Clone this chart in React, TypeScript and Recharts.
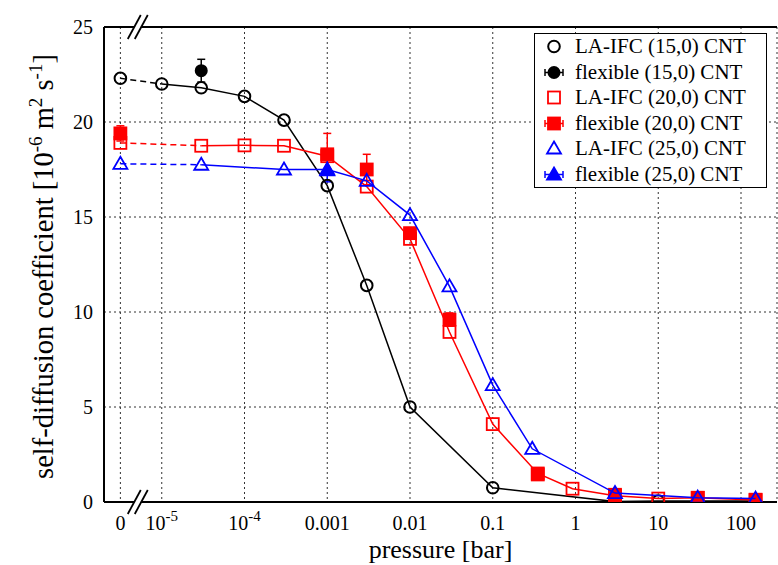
import React from 'react'
import {
  ScatterChart,
  Scatter,
  XAxis,
  YAxis,
  CartesianGrid,
  ErrorBar,
  Legend,
  ReferenceDot,
} from 'recharts'

const SERIF = '"Liberation Serif", "DejaVu Serif", serif'
const BLACK = '#000000'
const RED = '#ff0000'
const BLUE = '#0000ff'

// p = 0 is drawn left of the axis break, half a decade below 1e-5
const ZERO_AT = -5.5

// x axis works in log10(p)
const xTicks = [-5.5, -5, -4, -3, -2, -1, 0, 1, 2]
const xTickBase = ['0', '10', '10', '0.001', '0.01', '0.1', '1', '10', '100']
const xTickExp = ['', '-5', '-4', '', '', '', '', '', '']

const yMajor = [0, 5, 10, 15, 20, 25]
const yMinor = [
  0, 1, 2, 3, 4, 5, 6, 7, 8, 9, 10, 11, 12, 13, 14, 15, 16, 17, 18, 19, 20, 21,
  22, 23, 24, 25,
]

// LA-IFC (15,0)
const la15P = [0, 1e-5, 3e-5, 1e-4, 3e-4, 1e-3, 3e-3, 1e-2, 0.1, 3, 10, 30, 150]
const la15D = [22.3, 22.0, 21.8, 21.35, 20.1, 16.65, 11.4, 5.0, 0.75, 0.02, 0.05, 0.05, 0.05]

// flexible (15,0)
const fx15P = [3e-5]
const fx15D = [22.7]
const fx15E = [0.6]

// LA-IFC (20,0)
const la20P = [0, 3e-5, 1e-4, 3e-4, 1e-3, 3e-3, 1e-2, 3e-2, 0.1, 0.35, 0.92, 3, 10, 30, 150]
const la20D = [18.9, 18.75, 18.77, 18.75, 18.2, 16.6, 13.85, 8.95, 4.1, 1.5, 0.7, 0.33, 0.18, 0.22, 0.1]

// flexible (20,0)
const fx20P = [0, 1e-3, 3e-3, 1e-2, 3e-2, 0.35, 3, 30, 150]
const fx20D = [19.4, 18.3, 17.5, 14.15, 9.6, 1.45, 0.38, 0.22, 0.12]
const fx20E = [0.4, 1.1, 0.8, 0.25, 0.35, 0.1, 0.05, 0.05, 0.05]

// LA-IFC (25,0)
const la25P = [0, 3e-5, 3e-4, 1e-3, 3e-3, 1e-2, 3e-2, 0.1, 0.3, 3, 30, 150]
const la25D = [17.8, 17.75, 17.5, 17.5, 16.9, 15.1, 11.35, 6.15, 2.8, 0.47, 0.23, 0.18]

// flexible (25,0)
const fx25P = [1e-3]
const fx25D = [17.45]
const fx25E = [0.6]

const legendNames = [
  'LA-IFC (15,0) CNT',
  'flexible (15,0) CNT',
  'LA-IFC (20,0) CNT',
  'flexible (20,0) CNT',
  'LA-IFC (25,0) CNT',
  'flexible (25,0) CNT',
]

type Row = { x: number; y: number; err: number }

const toRows = (p: number[], d: number[], e?: number[]): Row[] =>
  p.map((v, i) => ({
    x: v === 0 ? ZERO_AT : Math.log10(v),
    y: d[i],
    err: e ? e[i] : 0,
  }))

const la15 = toRows(la15P, la15D)
const fx15 = toRows(fx15P, fx15D, fx15E)
const la20 = toRows(la20P, la20D)
const fx20 = toRows(fx20P, fx20D, fx20E)
const la25 = toRows(la25P, la25D)
const fx25 = toRows(fx25P, fx25D, fx25E)

type Kind = 'circle' | 'square' | 'triangle'

const Marker = ({
  cx,
  cy,
  kind,
  color,
  filled,
}: {
  cx: number
  cy: number
  kind: Kind
  color: string
  filled: boolean
}) => {
  const fill = filled ? color : 'none'
  if (kind === 'circle')
    return (
      <circle cx={cx} cy={cy} r={filled ? 5.5 : 5.8} fill={fill} stroke={color} strokeWidth={2} />
    )
  if (kind === 'square')
    return (
      <rect x={cx - 6} y={cy - 6} width={12} height={12} fill={fill} stroke={color} strokeWidth={1.8} />
    )
  return (
    <polygon
      points={`${cx},${cy - 7} ${cx + 7},${cy + 5} ${cx - 7},${cy + 5}`}
      fill={fill}
      stroke={color}
      strokeWidth={1.8}
    />
  )
}

const shapeOf = (kind: Kind, color: string, filled: boolean) => (p: any) =>
  <Marker cx={p.cx} cy={p.cy} kind={kind} color={color} filled={filled} />

const noShape = () => <g />

const PressureTick = ({ x, y, payload }: any) => {
  const i = xTicks.indexOf(payload.value)
  return (
    <text x={x} y={y} textAnchor="middle" fontFamily={SERIF} fontSize={20} fill={BLACK}>
      {xTickBase[i]}
      {xTickExp[i] && (
        <tspan dy={-9} fontSize={15}>
          {xTickExp[i]}
        </tspan>
      )}
    </text>
  )
}

const XTitle = ({ viewBox }: any) => (
  <text
    x={viewBox.x + viewBox.width / 2}
    y={viewBox.y + 56}
    textAnchor="middle"
    fontFamily={SERIF}
    fontSize={26}
    fill={BLACK}
  >
    pressure [bar]
  </text>
)

const YTitle = ({ viewBox }: any) => {
  const cx = viewBox.x + 53
  const cy = viewBox.y + viewBox.height / 2 + 2
  return (
    <text
      transform={`translate(${cx},${cy}) rotate(-90)`}
      textAnchor="middle"
      fontFamily={SERIF}
      fontSize={28.5}
      fill={BLACK}
    >
      self-diffusion coefficient [10
      <tspan dy={-11} fontSize={19}>-6</tspan>
      <tspan dy={11}> m</tspan>
      <tspan dy={-11} fontSize={19}>2</tspan>
      <tspan dy={11}> s</tspan>
      <tspan dy={-11} fontSize={19}>-1</tspan>
      <tspan dy={11}>]</tspan>
    </text>
  )
}

// "//" marks where the axes are broken between 0 and 1e-5
const BreakMark = (p: any) => {
  const { cx, cy } = p
  return (
    <g>
      <polygon
        points={`${cx - 9},${cy + 12} ${cx + 3},${cy - 12} ${cx + 9},${cy - 12} ${cx - 3},${cy + 12}`}
        fill="#fff"
      />
      <line x1={cx - 10} y1={cy + 12} x2={cx + 3} y2={cy - 12} stroke={BLACK} strokeWidth={1.8} />
      <line x1={cx - 3} y1={cy + 12} x2={cx + 10} y2={cy - 12} stroke={BLACK} strokeWidth={1.8} />
    </g>
  )
}

const legendMarks: { kind: Kind; color: string; filled: boolean }[] = [
  { kind: 'circle', color: BLACK, filled: false },
  { kind: 'circle', color: BLACK, filled: true },
  { kind: 'square', color: RED, filled: false },
  { kind: 'square', color: RED, filled: true },
  { kind: 'triangle', color: BLUE, filled: false },
  { kind: 'triangle', color: BLUE, filled: true },
]

const LegendBox = () => (
  <div
    style={{
      boxSizing: 'border-box',
      width: 233,
      border: '1.5px solid #000',
      background: '#fff',
      fontFamily: SERIF,
      fontSize: 21,
      color: BLACK,
    }}
  >
    {legendNames.map((name, i) => {
      const m = legendMarks[i]
      return (
        <div key={name} style={{ display: 'flex', alignItems: 'center', height: 25.5 }}>
          <svg width={40} height={25} style={{ flex: 'none' }}>
            {m.filled && (
              <g stroke={m.color} strokeWidth={1.5}>
                <line x1={10} y1={12.5} x2={28} y2={12.5} />
                <line x1={10} y1={9} x2={10} y2={16} />
                <line x1={28} y1={9} x2={28} y2={16} />
              </g>
            )}
            <Marker
              cx={19}
              cy={12.5}
              kind={m.kind}
              color={m.color}
              filled={m.filled}
            />
          </svg>
          <span style={{ whiteSpace: 'nowrap' }}>{name}</span>
        </div>
      )
    })}
  </div>
)

const axisStroke = { stroke: BLACK, strokeWidth: 2 }
const tickStroke = { stroke: BLACK, strokeWidth: 1.5 }
const blank = () => ''

export default function App() {
  const xDomain: [number, number] = [-5.698, 2.435]
  const yDomain: [number, number] = [0, 25]
  return (
    <div>
      <style>{'body{margin:0}'}</style>
      <ScatterChart
        width={778}
        height={565}
        margin={{ top: 27, right: 1, left: 0, bottom: 0 }}
      >
        <CartesianGrid stroke="#333" strokeDasharray="2 3" strokeWidth={1} />
        <XAxis
          type="number"
          dataKey="x"
          domain={xDomain}
          allowDataOverflow
          ticks={xTicks}
          interval={0}
          height={63}
          axisLine={axisStroke}
          tickLine={false}
          tickSize={0}
          tickMargin={28}
          tick={<PressureTick />}
          label={<XTitle />}
        />
        <XAxis
          xAxisId="bottomTicks"
          type="number"
          domain={xDomain}
          allowDataOverflow
          ticks={xTicks}
          interval={0}
          mirror
          axisLine={false}
          tickLine={tickStroke}
          tickSize={7}
          tickFormatter={blank}
        />
        <XAxis
          xAxisId="top"
          orientation="top"
          type="number"
          domain={xDomain}
          allowDataOverflow
          ticks={xTicks}
          interval={0}
          mirror
          axisLine={axisStroke}
          tickLine={tickStroke}
          tickSize={7}
          tickFormatter={blank}
        />
        <YAxis
          type="number"
          dataKey="y"
          domain={yDomain}
          allowDataOverflow
          ticks={yMajor}
          interval={0}
          width={104}
          axisLine={axisStroke}
          tickLine={false}
          tickSize={0}
          tickMargin={11}
          tick={{ fill: BLACK, fontSize: 20, fontFamily: SERIF }}
          label={<YTitle />}
        />
        <YAxis
          yAxisId="leftMinor"
          type="number"
          domain={yDomain}
          ticks={yMinor}
          interval={0}
          mirror
          axisLine={false}
          tickLine={tickStroke}
          tickSize={4}
          tickFormatter={blank}
        />
        <YAxis
          yAxisId="leftMajor"
          type="number"
          domain={yDomain}
          ticks={yMajor}
          interval={0}
          mirror
          axisLine={false}
          tickLine={tickStroke}
          tickSize={8}
          tickFormatter={blank}
        />
        <YAxis
          yAxisId="rightMinor"
          orientation="right"
          type="number"
          domain={yDomain}
          ticks={yMinor}
          interval={0}
          mirror
          width={0}
          axisLine={axisStroke}
          tickLine={tickStroke}
          tickSize={4}
          tickFormatter={blank}
        />
        <YAxis
          yAxisId="rightMajor"
          orientation="right"
          type="number"
          domain={yDomain}
          ticks={yMajor}
          interval={0}
          mirror
          width={0}
          axisLine={false}
          tickLine={tickStroke}
          tickSize={8}
          tickFormatter={blank}
        />

        {/* (15,0) */}
        <Scatter data={la15.slice(0, 2)} shape={noShape} line={{ stroke: BLACK, strokeWidth: 1.5, strokeDasharray: '6 4' }} isAnimationActive={false} />
        <Scatter data={la15.slice(1)} shape={noShape} line={{ stroke: BLACK, strokeWidth: 1.5 }} isAnimationActive={false} />
        <Scatter data={la15} shape={shapeOf('circle', BLACK, false)} isAnimationActive={false} />
        <Scatter data={fx15} shape={shapeOf('circle', BLACK, true)} isAnimationActive={false}>
          <ErrorBar dataKey="err" direction="y" width={4} stroke={BLACK} strokeWidth={1.5} />
        </Scatter>

        {/* (20,0) */}
        <Scatter data={la20.slice(0, 2)} shape={noShape} line={{ stroke: RED, strokeWidth: 1.5, strokeDasharray: '6 4' }} isAnimationActive={false} />
        <Scatter data={la20.slice(1)} shape={noShape} line={{ stroke: RED, strokeWidth: 1.5 }} isAnimationActive={false} />
        <Scatter data={la20} shape={shapeOf('square', RED, false)} isAnimationActive={false} />
        <Scatter data={fx20} shape={shapeOf('square', RED, true)} isAnimationActive={false}>
          <ErrorBar dataKey="err" direction="y" width={4} stroke={RED} strokeWidth={1.5} />
        </Scatter>

        {/* (25,0) */}
        <Scatter data={la25.slice(0, 2)} shape={noShape} line={{ stroke: BLUE, strokeWidth: 1.5, strokeDasharray: '6 4' }} isAnimationActive={false} />
        <Scatter data={la25.slice(1)} shape={noShape} line={{ stroke: BLUE, strokeWidth: 1.5 }} isAnimationActive={false} />
        <Scatter data={la25} shape={shapeOf('triangle', BLUE, false)} isAnimationActive={false} />
        <Scatter data={fx25} shape={shapeOf('triangle', BLUE, true)} isAnimationActive={false}>
          <ErrorBar dataKey="err" direction="y" width={4} stroke={BLUE} strokeWidth={1.5} />
        </Scatter>

        <ReferenceDot x={-5.29} y={25} r={0} ifOverflow="visible" shape={BreakMark} />
        <ReferenceDot x={-5.29} y={0} r={0} ifOverflow="visible" shape={BreakMark} />

        <Legend
          layout="vertical"
          align="center"
          verticalAlign="middle"
          wrapperStyle={{ left: 534, top: 33, width: 233 }}
          content={<LegendBox />}
        />
      </ScatterChart>
    </div>
  )
}
